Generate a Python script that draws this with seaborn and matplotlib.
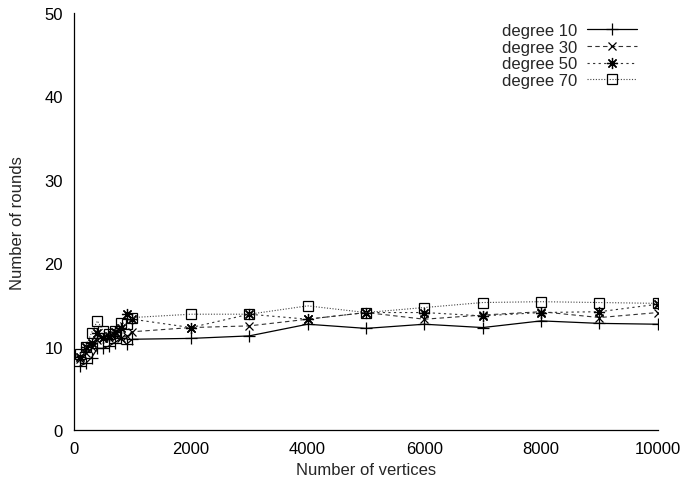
import numpy as np
import pandas as pd
import matplotlib
matplotlib.use("Agg")
import matplotlib.pyplot as plt
import seaborn as sns

vertices = [100, 200, 300, 400, 500, 600, 700, 800, 900, 1000,
            2000, 3000, 4000, 5000, 6000, 7000, 8000, 9000, 10000]

rounds_deg10 = [7.7, 8.0, 8.7, 9.8, 9.8, 10.1, 10.5, 11.0, 10.3, 10.9,
                11.0, 11.3, 12.7, 12.2, 12.7, 12.3, 13.1, 12.8, 12.7]
rounds_deg30 = [8.5, 9.3, 10.0, 10.8, 11.0, 11.0, 11.4, 11.0, 11.3, 11.8,
                12.3, 12.5, 13.3, 14.1, 13.3, 13.8, 14.2, 13.5, 14.1]
rounds_deg50 = [8.8, 10.0, 10.5, 11.6, 11.0, 11.3, 11.8, 12.3, 13.9, 13.3,
                12.3, 13.9, 13.3, 14.1, 14.1, 13.7, 14.1, 14.2, 15.1]
rounds_deg70 = [9.1, 10.0, 11.7, 13.1, 11.9, 11.5, 11.9, 12.9, 12.7, 13.5,
                13.9, 13.9, 14.9, 14.1, 14.7, 15.3, 15.4, 15.3, 15.2]

series_labels = ["degree 10", "degree 30", "degree 50", "degree 70"]
series_values = [rounds_deg10, rounds_deg30, rounds_deg50, rounds_deg70]

rows = []
for lab, vals in zip(series_labels, series_values):
    for v, r in zip(vertices, vals):
        rows.append({"vertices": v, "rounds": r, "series": lab})
df = pd.DataFrame(rows)

sns.set_style("white")
plt.rcParams["font.family"] = ["Liberation Sans", "DejaVu Sans"]

fig = plt.figure(figsize=(6.86, 4.85), dpi=100)
ax = fig.add_axes([0.108, 0.111, 0.851, 0.860])

styles = {
    "degree 10": dict(ls="-", marker="+", ms=8, color="black", lw=0.9),
    "degree 30": dict(ls=(0, (4, 3)), marker="x", ms=6, color="#333333", lw=0.8),
    "degree 50": dict(ls=(0, (2, 3)), marker=(8, 2, 0), ms=8, color="#333333", lw=0.8),
    "degree 70": dict(ls=(0, (1, 1.5)), marker="s", ms=7, color="#444444", lw=0.8,
                      mfc="none"),
}

for lab in series_labels:
    st = styles[lab]
    sub = df[df["series"] == lab]
    sns.lineplot(data=sub, x="vertices", y="rounds", ax=ax, label=lab,
                 color=st["color"], linestyle=st["ls"], marker=st["marker"],
                 markersize=st["ms"], markeredgewidth=0.9,
                 markerfacecolor=st.get("mfc", "black"),
                 markeredgecolor="black", linewidth=st["lw"], estimator=None)

ax.set_xlim(0, 10000)
ax.set_ylim(0, 50)
ax.set_xticks([0, 2000, 4000, 6000, 8000, 10000])
ax.set_yticks([0, 10, 20, 30, 40, 50])
ax.tick_params(direction="in", length=5, width=0.8, labelsize=12,
               colors="black")
ax.tick_params(axis="x", pad=8)
ax.tick_params(axis="y", pad=8)
ax.set_xlabel("Number of vertices", fontsize=12, labelpad=4)
ax.set_ylabel("Number of rounds", fontsize=12, labelpad=14)

for side in ["top", "right"]:
    ax.spines[side].set_visible(False)
for side in ["left", "bottom"]:
    ax.spines[side].set_color("black")
    ax.spines[side].set_linewidth(0.9)

leg = ax.legend(loc="upper right", bbox_to_anchor=(0.981, 1.0),
                frameon=False, markerfirst=False, fontsize=12,
                handlelength=3.0, handletextpad=0.6, labelspacing=0.1,
                borderaxespad=0.2)

fig.savefig("out.png", dpi=100)
